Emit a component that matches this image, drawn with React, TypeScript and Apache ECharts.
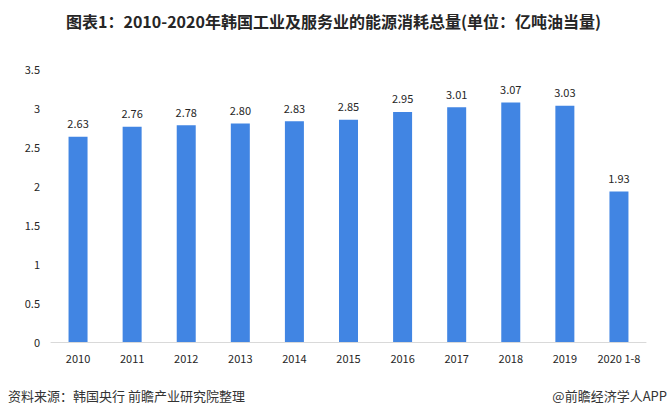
import React, { useEffect, useRef } from "react";
import * as echarts from "echarts";

const categories = ["2010", "2011", "2012", "2013", "2014", "2015", "2016", "2017", "2018", "2019", "2020 1-8"];
const values = [2.63, 2.76, 2.78, 2.8, 2.83, 2.85, 2.95, 3.01, 3.07, 3.03, 1.93];
const yTicks = [0, 0.5, 1, 1.5, 2, 2.5, 3, 3.5];

const title = "图表1：2010-2020年韩国工业及服务业的能源消耗总量(单位：亿吨油当量)";
const source = "资料来源：韩国央行 前瞻产业研究院整理";
const brand = "@前瞻经济学人APP";

export default function App() {
  const ref = useRef<HTMLDivElement>(null);
  useEffect(() => {
    if (!ref.current) return;
    const chart = echarts.init(ref.current, null, { renderer: "svg" });
    const font = "'Noto Sans CJK SC', 'Noto Sans', sans-serif";
    chart.setOption({
      animation: false,
      backgroundColor: "#ffffff",
      title: {
        text: title,
        left: "center",
        top: 8,
        textStyle: { fontSize: 16, fontWeight: "bold", color: "#262626", fontFamily: font },
      },
      grid: { left: 51, right: 21, top: 69, bottom: 77 },
      xAxis: {
        type: "category",
        data: categories,
        axisLine: { lineStyle: { color: "#d9d9d9", width: 1 } },
        axisTick: { show: false },
        axisLabel: { color: "#262626", fontSize: 11, margin: 10, interval: 0, fontFamily: font },
      },
      yAxis: {
        type: "value",
        min: yTicks[0],
        max: yTicks[yTicks.length - 1],
        interval: 0.5,
        axisLine: { show: false },
        axisTick: { show: false },
        splitLine: { show: false },
        axisLabel: { color: "#262626", fontSize: 11, margin: 11, fontFamily: font },
      },
      series: [
        {
          type: "bar",
          data: values,
          barWidth: 19,
          itemStyle: { color: "#4185e3" },
          label: {
            show: true,
            position: "top",
            distance: 8,
            color: "#262626",
            fontSize: 11,
            fontFamily: font,
            formatter: (p: any) => p.value.toFixed(2),
          },
        },
      ],
      graphic: [
        {
          type: "text",
          left: 8,
          top: 389,
          style: { text: source, fontSize: 13, fill: "#333333", fontFamily: font },
        },
        {
          type: "text",
          right: 0,
          top: 389,
          style: { text: brand, fontSize: 13, fill: "#333333", fontFamily: font },
        },
      ],
    });
    return () => chart.dispose();
  }, []);
  return <div ref={ref} style={{ width: 667, height: 419, position: "absolute", left: 0, top: 0 }} />;
}
